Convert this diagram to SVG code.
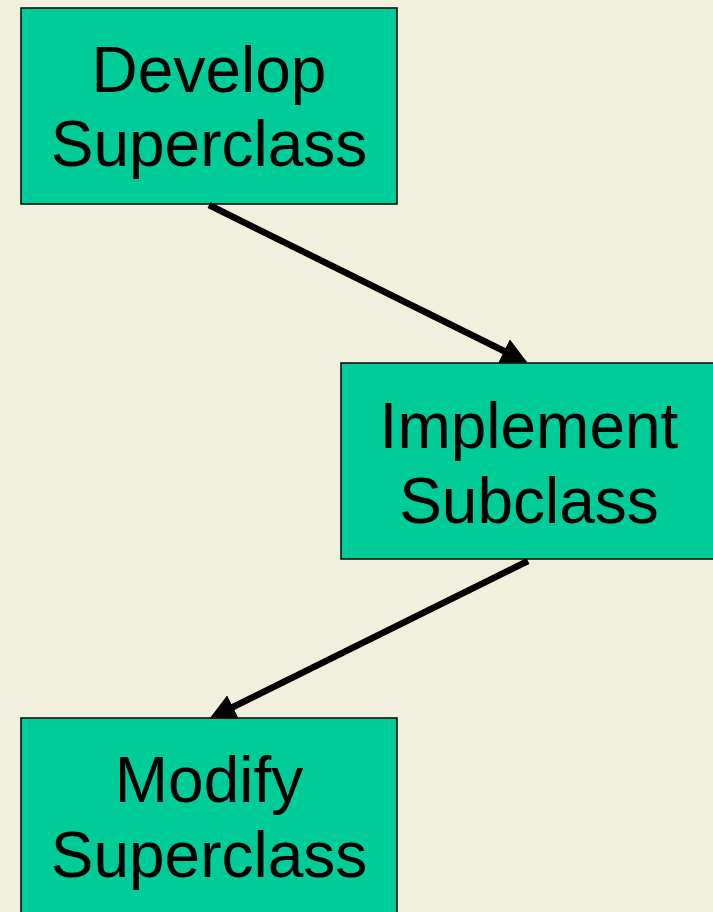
<svg xmlns="http://www.w3.org/2000/svg" width="713" height="912" viewBox="0 0 713 912">
  <style>
    .box { fill: #00CC99; stroke: #000; stroke-width: 1.5; }
    .lbl { font-family: "Liberation Sans", Arial, sans-serif; font-size: 64px; fill: #000; text-anchor: middle; }
    .conn { stroke: #000; stroke-width: 6.5; fill: none; marker-end: url(#arr); }
  </style>
  <defs>
    <marker id="arr" markerUnits="userSpaceOnUse" markerWidth="26" markerHeight="26" refX="2" refY="12" orient="auto" viewBox="0 0 24 24">
      <path d="M0,0 L24,12 L0,24 z" fill="#000"/>
    </marker>
  </defs>
  <rect width="713" height="912" fill="#F1F0DC"/>
  <g id="node-develop">
    <rect class="box" x="21" y="8" width="376" height="196"/>
    <text class="lbl" x="209" y="92">Develop</text>
    <text class="lbl" x="209" y="166">Superclass</text>
  </g>
  <g id="node-implement">
    <rect class="box" x="341" y="363" width="376" height="196"/>
    <text class="lbl" x="529" y="448">Implement</text>
    <text class="lbl" x="529" y="523">Subclass</text>
  </g>
  <g id="node-modify">
    <rect class="box" x="21" y="718" width="376" height="200"/>
    <text class="lbl" x="209" y="802">Modify</text>
    <text class="lbl" x="209" y="877">Superclass</text>
  </g>
  <g id="connectors">
    <line class="conn" x1="209" y1="205" x2="506" y2="352"/>
    <line class="conn" x1="528" y1="561" x2="231" y2="708"/>
  </g>
</svg>
